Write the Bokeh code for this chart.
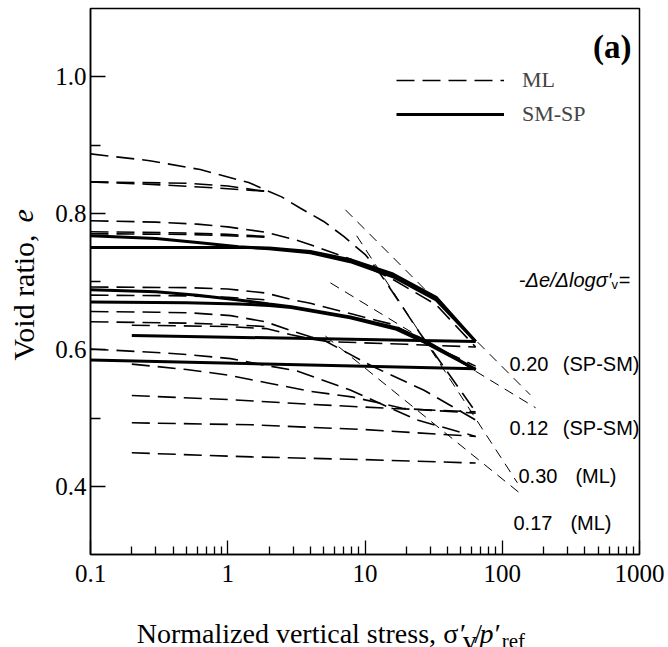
import math
from bokeh.plotting import figure
from bokeh.layouts import row, column
from bokeh.models import (Label, Legend, LegendItem, FixedTicker, Range1d,
                          CustomJSTickFormatter, PrintfTickFormatter)
from bokeh.embed import file_html
from bokeh.resources import INLINE

# ---------------- data ----------------
x_ticks = [0.1, 1, 10, 100, 1000]
y_ticks = [0.4, 0.6, 0.8, 1.0]
y_minor = [0.5, 0.7, 0.9]

# ML (silt) compression curves
ml1_x = [0.1, 0.27, 0.63, 1.42, 2.47, 3.34, 5.0, 7.0, 10.1, 12.3, 14.1, 25, 64]
ml1_y = [0.887, 0.877, 0.864, 0.845, 0.824, 0.808, 0.788, 0.766, 0.739, 0.717, 0.700, 0.625, 0.509]
ml2_x = [0.1, 0.5, 1.0, 1.9]
ml2_y = [0.846, 0.844, 0.840, 0.832]
ml3_x = [0.1, 0.3, 1.0, 1.9]
ml3_y = [0.846, 0.842, 0.836, 0.832]
ml4_x = [0.1, 0.3, 0.6, 1.0, 1.9, 3.0, 4.0, 7.8, 16, 33, 64]
ml4_y = [0.789, 0.787, 0.784, 0.780, 0.772, 0.762, 0.754, 0.733, 0.703, 0.666, 0.604]
ml5_x = [0.1, 0.5, 1.0, 1.9]
ml5_y = [0.773, 0.771, 0.769, 0.766]
ml6_x = [0.1, 0.5, 1.0, 1.9]
ml6_y = [0.770, 0.769, 0.767, 0.765]
ml7_x = [0.1, 0.5, 1.0, 1.9, 3.0, 4.0, 7.8, 16, 30, 64]
ml7_y = [0.692, 0.691, 0.689, 0.683, 0.673, 0.668, 0.653, 0.637, 0.607, 0.576]
ml8_x = [0.1, 0.5, 1.0, 1.9]
ml8_y = [0.680, 0.679, 0.677, 0.673]
ml9_x = [0.1, 0.3, 0.54, 1.05, 1.88, 2.9, 4.0, 4.9, 11.5, 26.7, 64]
ml9_y = [0.656, 0.655, 0.654, 0.650, 0.641, 0.628, 0.619, 0.615, 0.575, 0.541, 0.497]
ml10_x = [0.1, 0.5, 1.0, 1.9]
ml10_y = [0.641, 0.639, 0.637, 0.634]
ml11_x = [0.2, 1.0, 1.9, 2.9, 4.0, 5.3, 20, 64]
ml11_y = [0.636, 0.634, 0.631, 0.622, 0.616, 0.612, 0.608, 0.604]
ml12_x = [0.1, 0.3, 0.5, 1.05, 1.9, 3.2, 7.8, 24, 64]
ml12_y = [0.601, 0.596, 0.593, 0.587, 0.577, 0.569, 0.541, 0.497, 0.473]
ml13_x = [0.2, 0.5, 1.0, 2.0, 4.0, 8, 19, 64]
ml13_y = [0.579, 0.571, 0.563, 0.551, 0.539, 0.531, 0.514, 0.507]
ml14_x = [0.2, 1, 4, 16, 64]
ml14_y = [0.533, 0.527, 0.520, 0.514, 0.509]
ml15_x = [0.2, 1.5, 10, 64]
ml15_y = [0.493, 0.490, 0.483, 0.473]
ml16_x = [0.2, 1.5, 10, 64]
ml16_y = [0.449, 0.443, 0.439, 0.434]

# SM-SP (sand) compression curves
sm1_x = [0.1, 0.3, 0.6, 1.2, 2.0, 4.0, 7.8, 16, 33, 64]
sm1_y = [0.767, 0.763, 0.757, 0.751, 0.748, 0.742, 0.729, 0.707, 0.673, 0.612]
sm2_x = [0.1, 0.5, 1.2, 2.0, 4.0, 7.8, 16, 33, 64]
sm2_y = [0.750, 0.750, 0.750, 0.749, 0.744, 0.732, 0.711, 0.677, 0.612]
sm3_x = [0.1, 0.3, 0.6, 1.2, 2.0, 2.9, 7.8, 17, 27, 64]
sm3_y = [0.688, 0.685, 0.680, 0.673, 0.667, 0.663, 0.648, 0.632, 0.614, 0.571]
sm4_x = [0.1, 0.5, 1.2, 2.0, 2.9, 7.8, 17, 27, 64]
sm4_y = [0.670, 0.669, 0.667, 0.665, 0.662, 0.647, 0.630, 0.611, 0.571]
sm5_x = [0.2, 64]
sm5_y = [0.621, 0.612]
sm6_x = [0.1, 64]
sm6_y = [0.585, 0.572]

# reference slopes -de/dlog(sigma')
ref020_x = [7.2, 160]
ref020_y = [0.805, 0.534]
ref012_x = [5.6, 175]
ref012_y = [0.698, 0.515]
ref030_x = [8.7, 129]
ref030_y = [0.767, 0.405]
ref017_x = [5.15, 138]
ref017_y = [0.620, 0.388]

ml_curves = [(ml1_x, ml1_y), (ml2_x, ml2_y), (ml3_x, ml3_y), (ml4_x, ml4_y),
             (ml5_x, ml5_y), (ml6_x, ml6_y), (ml7_x, ml7_y), (ml8_x, ml8_y),
             (ml9_x, ml9_y), (ml10_x, ml10_y), (ml11_x, ml11_y), (ml12_x, ml12_y),
             (ml13_x, ml13_y), (ml14_x, ml14_y), (ml15_x, ml15_y), (ml16_x, ml16_y)]
sm_curves = [(sm1_x, sm1_y), (sm2_x, sm2_y), (sm3_x, sm3_y),
             (sm4_x, sm4_y), (sm5_x, sm5_y), (sm6_x, sm6_y)]
ref_lines = [(ref020_x, ref020_y), (ref012_x, ref012_y),
             (ref030_x, ref030_y), (ref017_x, ref017_y)]

# ---------------- layout geometry (page pixels) ----------------
W, H = 668, 647
LW = 50            # left strip holding the y title
MH = 600           # main plot height
L, R, T, B = 90, 639, 8, 554   # frame edges on the page

serif = "Liberation Serif"
sans = "Liberation Sans"


def X(px):
    return 10 ** ((px - L) / ((R - L) / 4.0) - 1)


def Y(py):
    return 1.1 - (py - T) / ((B - T) / 0.8)


p = figure(width=W - LW, height=MH, x_axis_type="log",
           x_range=(0.1, 1000), y_range=(0.3, 1.1),
           min_border_left=L - LW, min_border_right=W - R,
           min_border_top=T, min_border_bottom=MH - B,
           output_backend="svg", toolbar_location=None)
p.grid.visible = False
p.background_fill_color = "white"
p.border_fill_color = "white"
p.outline_line_color = "black"
p.outline_line_width = 1.5

for ax in (p.xaxis[0], p.yaxis[0]):
    ax.axis_line_color = "black"
    ax.axis_line_width = 1.5
    ax.major_tick_line_color = "black"
    ax.minor_tick_line_color = "black"
    ax.major_tick_line_width = 1.3
    ax.minor_tick_line_width = 1.3
    ax.major_tick_out = 0
    ax.minor_tick_out = 0
    ax.major_label_text_font = serif
    ax.major_label_text_font_size = "25px"
    ax.major_label_text_color = "black"
    ax.axis_label = None

p.xaxis.ticker = FixedTicker(
    ticks=x_ticks,
    minor_ticks=[m * d for d in (0.1, 1, 10, 100) for m in range(2, 10)])
p.xaxis.formatter = CustomJSTickFormatter(
    code="return tick < 1 ? tick.toFixed(1) : tick.toFixed(0);")
p.xaxis.major_tick_in = 14
p.xaxis.minor_tick_in = 8
p.xaxis.major_label_standoff = 10

p.yaxis.ticker = FixedTicker(ticks=y_ticks, minor_ticks=y_minor)
p.yaxis.formatter = PrintfTickFormatter(format="%.1f")
p.yaxis.major_tick_in = 15
p.yaxis.minor_tick_in = 10
p.yaxis.major_label_standoff = 4

# curves
ml_r = None
for xs, ys in ml_curves:
    r = p.line(xs, ys, line_color="black", line_width=1.6, line_dash="18 8")
    ml_r = ml_r or r
for xs, ys in ref_lines:
    p.line(xs, ys, line_color="black", line_width=1.0, line_dash="10 7")
sm_r = None
for xs, ys in sm_curves:
    r = p.line(xs, ys, line_color="black", line_width=3.0)
    sm_r = sm_r or r

# legend
leg = Legend(items=[LegendItem(label="ML", renderers=[ml_r]),
                    LegendItem(label="SM-SP", renderers=[sm_r])],
             location=(306, 427), orientation="vertical",
             glyph_width=108, glyph_height=20, label_standoff=18,
             spacing=8, padding=0, margin=0,
             border_line_color=None, background_fill_alpha=0,
             label_text_font=serif, label_text_font_size="22px",
             label_height=20)
p.add_layout(leg)


def lab(fig, text, x, y, size, font=serif, style="normal", align="left",
        baseline="alphabetic", angle=0.0):
    fig.add_layout(Label(x=x, y=y, text=text, text_font=font,
                         text_font_size=size, text_font_style=style,
                         text_align=align, text_baseline=baseline,
                         text_color="black", angle=angle))


def mlab(text, px, py, size, **kw):
    lab(p, text, X(px), Y(py), size, **kw)


# panel tag
mlab("(a)", 631, 46, "33px", style="bold", align="right")

# slope annotations
mlab("-\u0394e/\u0394log\u03c3\u2032", 611, 279, "20px", font=sans, style="italic", align="right")
mlab("v", 611, 284, "13px", font=sans)
mlab("=", 630, 279, "20px", font=sans, align="right")
mlab("0.20", 509, 363, "20px", font=sans)
mlab("(SP-SM)", 639, 363, "20px", font=sans, align="right")
mlab("0.12", 509, 427, "20px", font=sans)
mlab("(SP-SM)", 639, 427, "20px", font=sans, align="right")
mlab("0.30", 518, 475, "20px", font=sans)
mlab("(ML)", 616, 475, "20px", font=sans, align="right")
mlab("0.17", 513, 522, "20px", font=sans)
mlab("(ML)", 611, 522, "20px", font=sans, align="right")


def strip(width, height, x0):
    # frame covers the whole strip; x = page px, y = pixels up from page bottom
    f = figure(width=width, height=height,
               x_range=Range1d(x0, x0 + width), y_range=Range1d(0, height),
               min_border=0, x_axis_location=None, y_axis_location=None,
               output_backend="svg", toolbar_location=None)
    f.grid.visible = False
    f.outline_line_color = None
    f.background_fill_color = "white"
    f.border_fill_color = "white"
    return f


# x title strip
BH = H - MH
bx = strip(W - LW, BH, LW)


def blab(text, px, py, size, **kw):
    lab(bx, text, px, H - py, size, **kw)


blab("Normalized vertical stress,", 439, 633, "28px", align="right")
blab("\u03c3", 447, 633, "28px")
blab("\u2032", 466, 633, "28px")
blab("v", 469, 640, "28px")
blab("/", 482, 633, "28px")
blab("p", 488, 633, "28px", style="italic")
blab("\u2032", 505, 633, "28px")
blab("ref", 513, 640, "21px")

# y title strip
ly = strip(LW, H, 0)
lab(ly, "Void ratio, ", 23, H - 360, "30px", baseline="middle", angle=math.pi / 2)
lab(ly, "e", 23, H - 222, "30px", style="italic", baseline="middle", angle=math.pi / 2)

layout = row(ly, column(p, bx))
open("out.html", "w").write(file_html(layout, INLINE))
